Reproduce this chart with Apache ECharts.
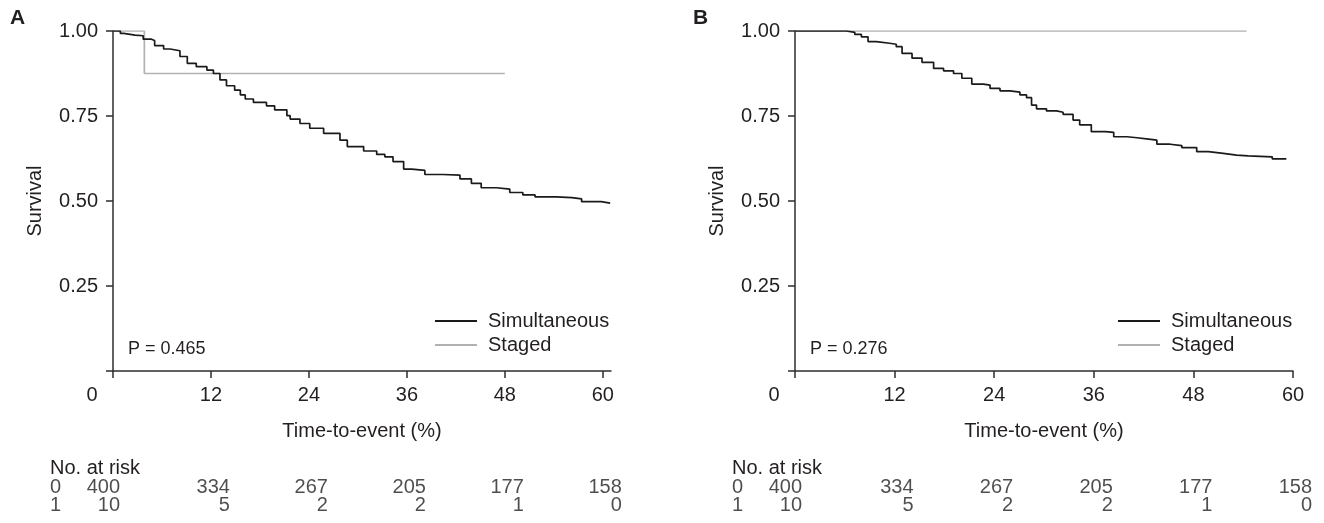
<!DOCTYPE html>
<html><head><meta charset="utf-8">
<script src="https://cdn.jsdelivr.net/npm/echarts@6/dist/echarts.min.js"></script>
<style>html,body{margin:0;padding:0;background:#fff}#c{width:1324px;height:523px}</style>
</head><body><div id="c"></div>
<script>
// ---- data ----
const xTicks = [0, 12, 24, 36, 48, 60];
const yTicks = [0, 0.25, 0.5, 0.75, 1];
const yLabels = [0.25, 0.5, 0.75, 1];
const seriesNames = ['Simultaneous', 'Staged'];

const simA_t = [0, 0.9, 1.3, 2.7, 3.7, 4.7, 5.1, 6.2, 7.0, 8.2, 9.1, 10.2, 11.5, 12.3, 13.1, 13.9, 14.9, 15.6, 16.2, 17.2, 18.8, 19.8, 21.3, 21.7, 22.9, 24.1, 25.8, 27.8, 28.7, 30.7, 32.3, 33.3, 34.3, 35.6, 36.6, 38.2, 40.4, 42.5, 43.9, 45.1, 47.0, 48.6, 50.2, 51.7, 54.3, 56.2, 57.4, 59.8, 60.9];
const simA_s = [1, 0.993, 0.988, 0.986, 0.976, 0.972, 0.957, 0.947, 0.942, 0.925, 0.905, 0.895, 0.885, 0.875, 0.856, 0.839, 0.826, 0.812, 0.800, 0.790, 0.780, 0.768, 0.751, 0.741, 0.728, 0.714, 0.699, 0.679, 0.660, 0.647, 0.637, 0.630, 0.616, 0.594, 0.590, 0.578, 0.576, 0.565, 0.552, 0.539, 0.535, 0.525, 0.518, 0.512, 0.510, 0.506, 0.498, 0.494, 0.494];
const stgA_t = [0, 3.84, 48];
const stgA_s = [1, 0.875, 0.875];

const simB_t = [0, 4.8, 6.2, 7.2, 8.0, 8.8, 9.8, 11.4, 12.2, 12.9, 14.1, 15.3, 16.7, 17.9, 19.1, 20.1, 21.3, 22.7, 23.5, 24.7, 25.9, 27.1, 27.9, 28.5, 29.1, 30.3, 31.5, 32.3, 33.5, 34.3, 35.7, 37.4, 38.4, 40.0, 41.2, 42.6, 43.6, 45.2, 46.6, 48.4, 49.8, 51.6, 53.2, 54.6, 57.5, 59.2];
const simB_s = [1, 1, 0.996, 0.990, 0.983, 0.969, 0.964, 0.961, 0.954, 0.934, 0.920, 0.908, 0.890, 0.883, 0.875, 0.861, 0.844, 0.841, 0.831, 0.824, 0.820, 0.812, 0.804, 0.782, 0.771, 0.765, 0.761, 0.755, 0.738, 0.724, 0.704, 0.702, 0.689, 0.686, 0.682, 0.679, 0.667, 0.663, 0.657, 0.645, 0.640, 0.635, 0.633, 0.630, 0.624, 0.624];
const stgB_t = [0, 54.4];
const stgB_s = [1, 1];

const riskTimes = [0, 12, 24, 36, 48, 60];
const riskGroups = ['0', '1'];
const riskA = [[400, 334, 267, 205, 177, 158], [10, 5, 2, 2, 1, 0]];
const riskB = [[400, 334, 267, 205, 177, 158], [10, 5, 2, 2, 1, 0]];
const pA = 'P = 0.465';
const pB = 'P = 0.276';
const panelLetters = ['A', 'B'];

// ---- chart ----
const FONT = '"Liberation Sans", Arial, Helvetica, sans-serif';
const TXT = '#231f20';
const AX = '#2e2e2e';
const zip = (a, b) => a.map((v, i) => [v, b[i]]);

function mainX(idx, max) {
  return {
    type: 'value', gridIndex: idx, min: 0, max: max,
    name: 'Time-to-event (%)', nameLocation: 'middle', nameGap: 50,
    nameTextStyle: { fontFamily: FONT, fontSize: 20, color: TXT },
    axisLine: { lineStyle: { color: AX, width: 1.5 } },
    axisTick: { show: true, length: 7, lineStyle: { color: AX, width: 1.5 }, customValues: xTicks },
    axisLabel: {
      customValues: xTicks, margin: 14, fontFamily: FONT, fontSize: 20, color: TXT,
      formatter: v => v === 0 ? '{z|0}' : String(v),
      rich: { z: { fontFamily: FONT, fontSize: 20, color: TXT, padding: [0, 42, 0, 0] } }
    },
    splitLine: { show: false }
  };
}
function mainY(idx) {
  return {
    type: 'value', gridIndex: idx, min: 0, max: 1,
    name: 'Survival', nameLocation: 'middle', nameGap: 68, nameRotate: 90,
    nameTextStyle: { fontFamily: FONT, fontSize: 20, color: TXT },
    axisLine: { show: true, lineStyle: { color: AX, width: 1.5 } },
    axisTick: { show: true, length: 7, lineStyle: { color: AX, width: 1.5 }, customValues: yTicks },
    axisLabel: { customValues: yLabels, margin: 15, fontFamily: FONT, fontSize: 20, color: TXT,
      formatter: v => v.toFixed(2) },
    splitLine: { show: false }
  };
}
function riskX(idx, max) {
  return { type: 'value', gridIndex: idx, min: 0, max: max, show: false };
}
function riskY(idx) {
  return { type: 'category', gridIndex: idx, data: riskGroups, inverse: true, show: false };
}
function riskSeries(idx, rows) {
  const data = [];
  rows.forEach((row, r) => row.forEach((n, j) => {
    data.push({ value: [riskTimes[j], r, String(n)], label: { offset: [j === 0 ? 7 : 19, 0] } });
  }));
  // group labels at the left of each row
  riskGroups.forEach((g, r) => {
    data.push({ value: [0, r, g], label: { align: 'left', offset: [-63, 0] } });
  });
  return {
    type: 'scatter', xAxisIndex: idx, yAxisIndex: idx, symbolSize: 1,
    itemStyle: { color: 'rgba(0,0,0,0)' }, silent: true,
    label: { show: true, position: 'inside', align: 'right', verticalAlign: 'middle',
      fontFamily: FONT, fontSize: 20, color: TXT, formatter: p => p.value[2] },
    data: data
  };
}
function km(name, ax, data, color) {
  return {
    name: name, type: 'line', step: 'end', xAxisIndex: ax, yAxisIndex: ax,
    showSymbol: false, symbol: 'none', data: data,
    lineStyle: { color: color, width: 1.7 }, itemStyle: { color: color }
  };
}
const legendCommon = {
  orient: 'vertical', itemWidth: 42, itemHeight: 14, itemGap: 4, icon: 'path://M0,6 L42,6 L42,8 L0,8 Z',
  data: seriesNames, selectedMode: false,
  textStyle: { fontFamily: FONT, fontSize: 20, color: TXT, lineHeight: 20, padding: [0, 0, 0, 6] }
};
const BLACK = '#1a1a1a', GREY = '#b2b2b2';

const chart = echarts.init(document.getElementById('c'), null, { renderer: 'canvas' });
chart.setOption({
  animation: false,
  backgroundColor: '#fff',
  grid: [
    { left: 113, top: 31, width: 498, height: 340 },
    { left: 795, top: 31, width: 498, height: 340 },
    { left: 113, top: 478, width: 498, height: 36 },
    { left: 795, top: 478, width: 498, height: 36 }
  ],
  xAxis: [mainX(0, 61), mainX(1, 60), riskX(2, 61), riskX(3, 60)],
  yAxis: [mainY(0), mainY(1), riskY(2), riskY(3)],
  legend: [
    Object.assign({}, legendCommon, { left: 430, top: 306 }),
    Object.assign({}, legendCommon, { left: 1113, top: 306 })
  ],
  series: [
    km(seriesNames[1], 0, zip(stgA_t, stgA_s), GREY),
    km(seriesNames[0], 0, zip(simA_t, simA_s), BLACK),
    km(seriesNames[1], 1, zip(stgB_t, stgB_s), GREY),
    km(seriesNames[0], 1, zip(simB_t, simB_s), BLACK),
    riskSeries(2, riskA),
    riskSeries(3, riskB)
  ],
  graphic: [
    { type: 'text', x: 10, y: 18, style: { text: panelLetters[0], font: 'bold 21px ' + FONT, fill: TXT, verticalAlign: 'middle' } },
    { type: 'text', x: 693, y: 18, style: { text: panelLetters[1], font: 'bold 21px ' + FONT, fill: TXT, verticalAlign: 'middle' } },
    { type: 'text', x: 128, y: 349, style: { text: pA, font: '18px ' + FONT, fill: TXT, verticalAlign: 'middle' } },
    { type: 'text', x: 810, y: 349, style: { text: pB, font: '18px ' + FONT, fill: TXT, verticalAlign: 'middle' } },
    { type: 'text', x: 50, y: 468, style: { text: 'No. at risk', font: '20px ' + FONT, fill: TXT, verticalAlign: 'middle' } },
    { type: 'text', x: 732, y: 468, style: { text: 'No. at risk', font: '20px ' + FONT, fill: TXT, verticalAlign: 'middle' } }
  ]
});
</script></body></html>
